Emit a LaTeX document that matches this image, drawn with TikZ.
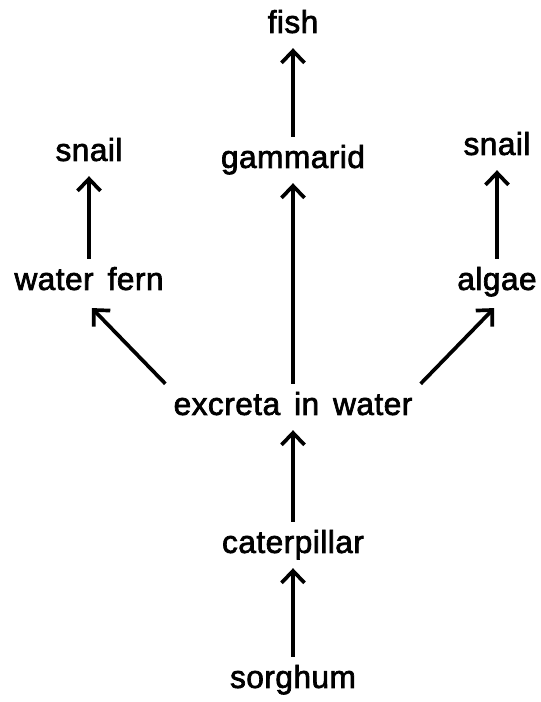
\documentclass[tikz,border=0pt]{standalone}
\usepackage{fontspec}
\newfontfamily\wordfont[FakeBold=2.2, WordSpace=1.5, LetterSpace=1.5]{Liberation Sans}
\usepackage{tikz}
\usetikzlibrary{arrows.meta, positioning}
\tikzstyle{word} = [inner sep=4.5pt, text height=13pt, text depth=4pt, font=\fontsize{18}{22}\wordfont]
\tikzstyle{arrow} = [line width=2.1pt, -{Straight Barb[length=2.4mm, width=4.6mm]}]

\begin{document}
\begin{tikzpicture}[node distance=2.7cm]
    \useasboundingbox (0,0) rectangle (10.8,-14.04);
    \node (sorghum) [word] at (5.86,-13.6) {sorghum};
    \node (caterpillar) [word, above of=sorghum] {caterpillar};
    \node (excreta) [word, above of=caterpillar, yshift=0.06cm] {excreta in water};
    \node (gammarid) [word, above of=excreta, yshift=2.24cm] {gammarid};
    \node (fish) [word, above of=gammarid] {fish};
    \node (fern) [word, above of=excreta, yshift=-0.2cm, xshift=-4.08cm] {water fern};
    \node (snailfern) [word, above of=fern, yshift=-0.12cm] {snail};
    \node (algae) [word, above of=excreta, yshift=-0.2cm, xshift=4.08cm] {algae};
    \node (snailalgae) [word, above of=algae] {snail};

    \draw [arrow] (sorghum) -- (caterpillar);
    \draw [arrow] (caterpillar) -- (excreta);
    \draw [arrow] (excreta) -- (gammarid);
    \draw [arrow] (gammarid) -- (fish);
    % the two side branches leave from the corners of the middle label
    \draw [arrow, shorten >=0.08cm] (excreta.north west) -- (fern.south);
    \draw [arrow, shorten >=0.08cm] (excreta.north east) -- (algae.south);
    \draw [arrow] (fern) -- (snailfern);
    \draw [arrow] (algae) -- (snailalgae);
\end{tikzpicture}
\end{document}
